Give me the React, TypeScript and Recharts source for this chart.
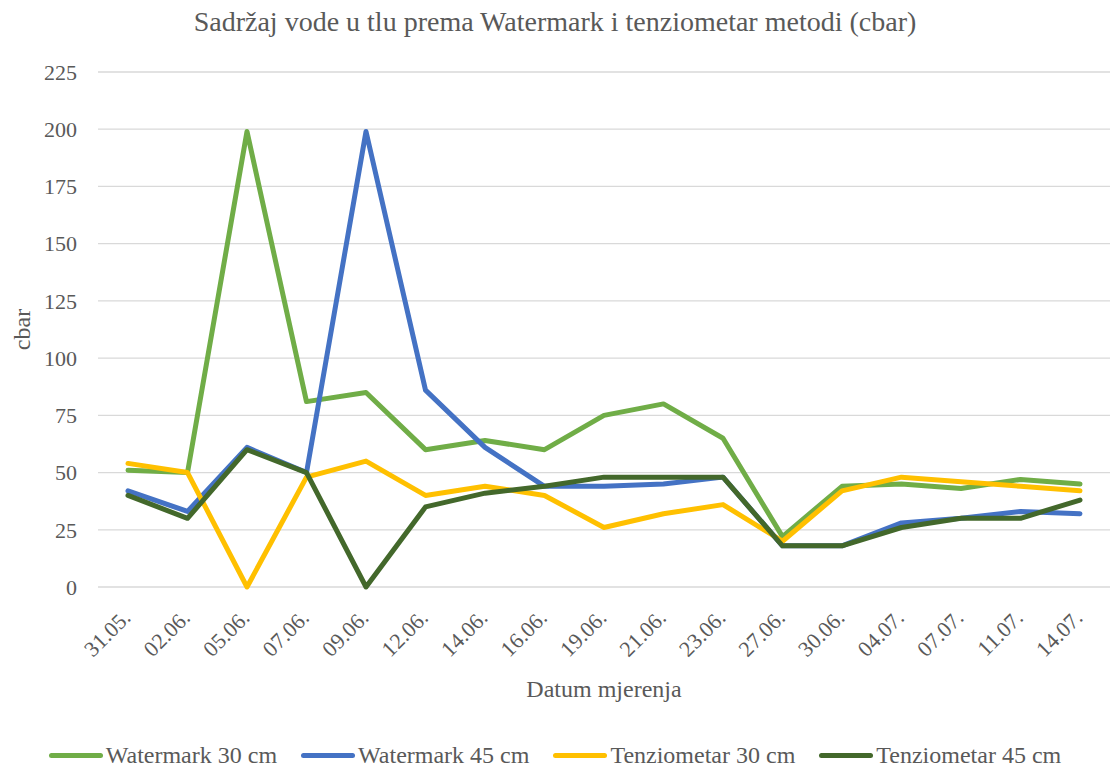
import { LineChart, Line, XAxis, YAxis, CartesianGrid, Legend, Label } from 'recharts';

const dates = ['31.05.', '02.06.', '05.06.', '07.06.', '09.06.', '12.06.', '14.06.', '16.06.', '19.06.', '21.06.', '23.06.', '27.06.', '30.06.', '04.07.', '07.07.', '11.07.', '14.07.'];
const watermark30 = [51, 50, 199, 81, 85, 60, 64, 60, 75, 80, 65, 22, 44, 45, 43, 47, 45];
const watermark45 = [42, 33, 61, 50, 199, 86, 61, 44, 44, 45, 48, 18, 18, 28, 30, 33, 32];
const tenziometar30 = [54, 50, 0, 48, 55, 40, 44, 40, 26, 32, 36, 20, 42, 48, 46, 44, 42];
const tenziometar45 = [40, 30, 60, 50, 0, 35, 41, 44, 48, 48, 48, 18, 18, 26, 30, 30, 38];
const yTicks = [0, 25, 50, 75, 100, 125, 150, 175, 200, 225];

const FONT = 'Times New Roman';
const TEXT = '#595959';

const series = [
  { key: 'wm30', name: 'Watermark 30 cm', color: '#70AD47' },
  { key: 'wm45', name: 'Watermark 45 cm', color: '#4472C4' },
  { key: 'tz30', name: 'Tenziometar 30 cm', color: '#FFC000' },
  { key: 'tz45', name: 'Tenziometar 45 cm', color: '#43682B' },
];

const chartData = dates.map((d, i) => ({
  date: d,
  wm30: watermark30[i],
  wm45: watermark45[i],
  tz30: tenziometar30[i],
  tz45: tenziometar45[i],
}));

function DateTick({ x, y, payload }: any) {
  const ax = x + 4;
  const ay = y + 32;
  return (
    <text x={ax} y={ay} textAnchor="end" fill={TEXT} fontSize={22} fontFamily={FONT}
      transform={`rotate(-45, ${ax}, ${ay})`}>
      {payload.value}
    </text>
  );
}

function LegendContent() {
  return (
    <div style={{ display: 'flex', justifyContent: 'center', paddingTop: 12, fontFamily: FONT, fontSize: 24, color: TEXT, lineHeight: '28px' }}>
      {series.map(s => (
        <div key={s.key} style={{ display: 'flex', alignItems: 'center', margin: '0 12px' }}>
          <span style={{ display: 'inline-block', width: 54, height: 5, borderRadius: 3, background: s.color, marginRight: 3 }} />
          <span>{s.name}</span>
        </div>
      ))}
    </div>
  );
}

export default function App() {
  return (
    <div style={{ position: 'absolute', left: 0, top: 0, width: 1110, height: 769, background: '#fff', fontFamily: FONT }}>
      <div style={{ position: 'absolute', left: 0, top: 5, width: 1110, textAlign: 'center', fontFamily: FONT, fontSize: 28, color: TEXT, lineHeight: '34px' }}>
        Sadržaj vode u tlu prema Watermark i tenziometar metodi (cbar)
      </div>
      <LineChart width={1110} height={769} data={chartData} margin={{ top: 72, right: 0, left: 0, bottom: 0 }}>
        <CartesianGrid vertical={false} stroke="#d9d9d9" strokeWidth={1.3} />
        <XAxis dataKey="date" axisLine={false} tickLine={false} tickSize={0} tickMargin={0} height={142}
          interval={0} padding={{ left: 30, right: 30 }} tick={<DateTick />}>
          <Label position="insideBottom" offset={32} value="Datum mjerenja" fill={TEXT} fontSize={24} fontFamily={FONT} />
        </XAxis>
        <YAxis width={98} domain={[0, 225]} ticks={yTicks} axisLine={false} tickLine={false} tickSize={0} tickMargin={21}
          tick={{ fill: TEXT, fontSize: 22, fontFamily: FONT }}>
          <Label content={({ viewBox }: any) => {
            const cx = 22;
            const cy = viewBox.y + viewBox.height / 2;
            return (
              <text x={cx} y={cy} textAnchor="middle" dominantBaseline="central" fill={TEXT} fontSize={24} fontFamily={FONT}
                transform={`rotate(-90, ${cx}, ${cy})`}>cbar</text>
            );
          }} />
        </YAxis>
        <Legend verticalAlign="bottom" wrapperStyle={{ height: 40 }} content={<LegendContent />} />
        {series.map(s => (
          <Line key={s.key} type="linear" dataKey={s.key} name={s.name} stroke={s.color} strokeWidth={5}
            strokeLinejoin="round" strokeLinecap="round" dot={false} activeDot={false} isAnimationActive={false} />
        ))}
      </LineChart>
    </div>
  );
}
